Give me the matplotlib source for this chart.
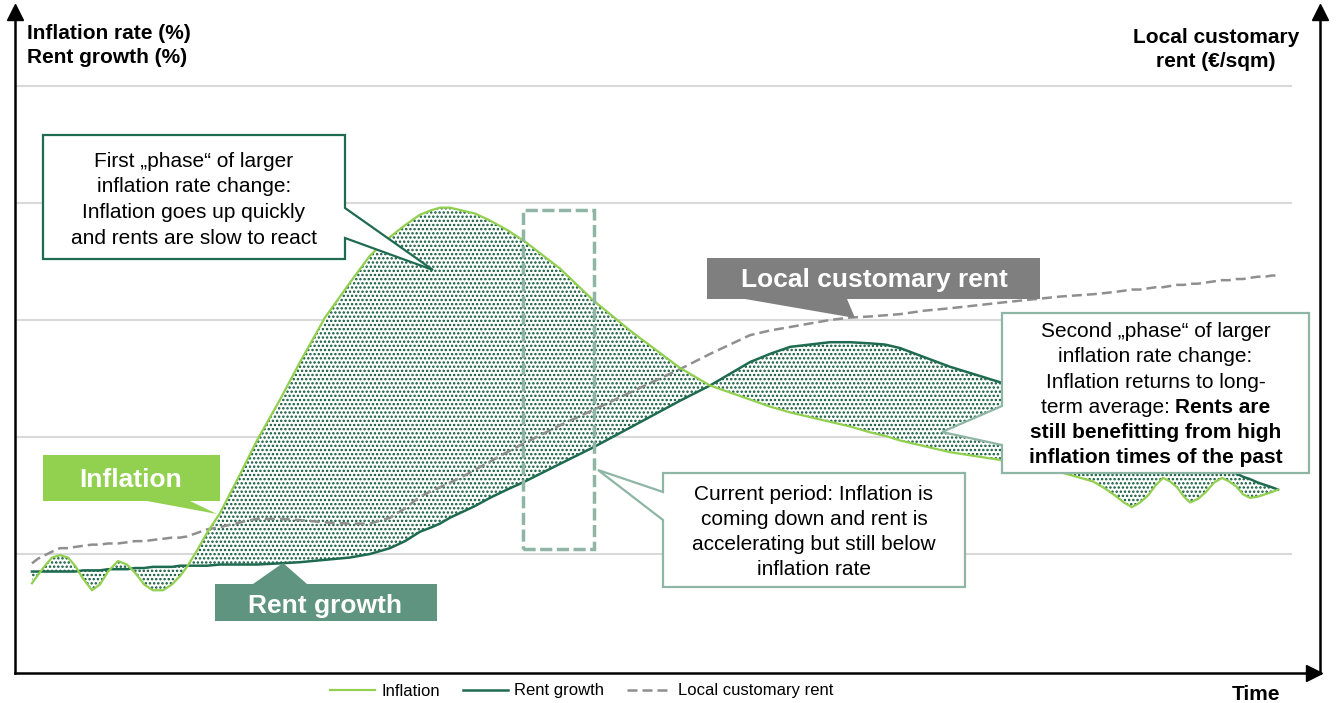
import matplotlib.pyplot as plt
import matplotlib.transforms as mtransforms
from matplotlib.patches import Polygon, Rectangle

plt.rcParams['font.family'] = ['Liberation Sans', 'DejaVu Sans']
plt.rcParams['hatch.color'] = '#0b5536'
plt.rcParams['hatch.linewidth'] = 1.15

# time axis in arbitrary units (0-100), rates in %
time = [1.30, 1.76, 2.30, 2.84, 3.45, 4.06, 4.60, 5.21, 5.90, 6.51, 7.13, 7.89,
        8.58, 9.20, 9.89, 10.57, 11.34, 12.03, 12.64, 13.18, 13.95, 14.71, 15.71,
        17.24, 18.54, 20.31, 21.84, 23.75, 25.67, 27.20, 28.74, 29.89, 31.03,
        31.95, 32.57, 33.33, 34.10, 35.25, 36.40, 37.70, 39.08, 41.76, 44.29,
        47.13, 50.96, 53.26, 56.32, 57.85, 59.39, 60.92, 62.45, 63.98, 65.52,
        66.67, 67.82, 69.73, 71.65, 75.71, 80.08, 82.61, 83.52, 84.29, 84.98,
        85.59, 86.21, 86.82, 87.43, 87.97, 88.51, 89.04, 89.58, 90.04, 90.65,
        91.26, 91.88, 92.49, 93.03, 93.56, 94.10, 94.64, 95.25, 95.79, 96.32,
        96.78]
inflation = [0.75, 0.82, 0.90, 0.97, 0.99, 0.97, 0.90, 0.79, 0.69, 0.74, 0.85, 0.94,
             0.91, 0.84, 0.74, 0.69, 0.69, 0.74, 0.81, 0.89, 1.03, 1.18, 1.35,
             1.68, 1.97, 2.32, 2.64, 3.02, 3.32, 3.55, 3.71, 3.81, 3.90,
             3.94, 3.96, 3.96, 3.94, 3.91, 3.85, 3.77, 3.67, 3.44, 3.17,
             2.91, 2.59, 2.44, 2.32, 2.26, 2.21, 2.17, 2.13, 2.09, 2.04,
             2.01, 1.97, 1.92, 1.87, 1.80, 1.70, 1.62, 1.56, 1.50, 1.44,
             1.40, 1.44, 1.50, 1.59, 1.65, 1.62, 1.57, 1.49, 1.44, 1.47,
             1.53, 1.61, 1.65, 1.62, 1.58, 1.51, 1.48, 1.49, 1.51, 1.53,
             1.55]
rent_growth = [0.85, 0.85, 0.85, 0.85, 0.85, 0.85, 0.85, 0.86, 0.86, 0.86, 0.87, 0.87,
               0.87, 0.88, 0.88, 0.89, 0.89, 0.89, 0.90, 0.90, 0.90, 0.90, 0.91,
               0.91, 0.91, 0.92, 0.93, 0.95, 0.97, 1.00, 1.05, 1.11, 1.19,
               1.23, 1.26, 1.31, 1.35, 1.41, 1.48, 1.55, 1.62, 1.77, 1.91,
               2.08, 2.31, 2.44, 2.64, 2.71, 2.77, 2.79, 2.81, 2.81, 2.80,
               2.79, 2.76, 2.68, 2.60, 2.46, 2.27, 2.16, 2.12, 2.09, 2.06,
               2.03, 2.01, 1.98, 1.95, 1.93, 1.91, 1.88, 1.86, 1.84, 1.81,
               1.79, 1.76, 1.73, 1.71, 1.69, 1.66, 1.64, 1.61, 1.59, 1.57,
               1.55]
local_rent = [0.92, 0.96, 0.99, 1.02, 1.05, 1.05, 1.06, 1.07, 1.08, 1.08, 1.09, 1.09,
              1.10, 1.11, 1.11, 1.12, 1.13, 1.14, 1.14, 1.15, 1.18, 1.21, 1.23,
              1.27, 1.30, 1.30, 1.29, 1.27, 1.26, 1.26, 1.31, 1.39, 1.49,
              1.54, 1.57, 1.61, 1.65, 1.72, 1.79, 1.87, 1.95, 2.10, 2.23,
              2.38, 2.58, 2.71, 2.87, 2.91, 2.94, 2.97, 3.00, 3.02, 3.03,
              3.04, 3.05, 3.08, 3.10, 3.15, 3.20, 3.22, 3.23, 3.24, 3.25,
              3.26, 3.26, 3.27, 3.28, 3.28, 3.29, 3.30, 3.30, 3.31, 3.31,
              3.32, 3.33, 3.34, 3.34, 3.35, 3.35, 3.36, 3.37, 3.37, 3.38,
              3.38]
series_names = ['Inflation', 'Rent growth', 'Local customary rent']

# current period window (time units)
current_start, current_end = 38.9, 44.4

C_INFL = '#92d050'
C_RENT = '#1f6b52'
C_LOCAL = '#8f8f8f'
C_PALE = '#8fb5a5'

W, H = 1342, 703
fig = plt.figure(figsize=(W / 100, H / 100), dpi=100)
ax = fig.add_axes([15 / W, 30 / H, 1305 / W, 661 / H])
ax.set_xlim(0, 100)
ax.set_ylim(-0.017, 5.632)
ax.set_xticks([])
ax.set_yticks([])
ax.spines['top'].set_visible(False)
for s in ['left', 'right', 'bottom']:
    ax.spines[s].set_linewidth(1.8)
    ax.spines[s].set_color('black')

ax.hlines([1, 2, 3, 4, 5], 0, 97.85, color='#d9d9d9', lw=1.5, zorder=0)

ax.fill_between(time, inflation, rent_growth, facecolor='white',
                edgecolor='#0b5536', hatch='....', linewidth=0, zorder=1)
l3, = ax.plot(time, local_rent, color=C_LOCAL, lw=1.8, ls=(0, (4, 2)), zorder=2)
l2, = ax.plot(time, rent_growth, color=C_RENT, lw=1.8, zorder=3)
l1, = ax.plot(time, inflation, color=C_INFL, lw=1.6, zorder=3)

ax.add_patch(Rectangle((current_start, 1.04), current_end - current_start, 2.9,
                       fill=False, edgecolor=C_PALE, lw=2.5, ls=(0, (3.5, 1.3)),
                       zorder=4))

# axis arrow heads
ax.plot([0, 1], [1, 1], ls='none', marker='^', ms=12, color='black',
        transform=ax.transAxes, clip_on=False)
ax.plot([0.9952], [0], ls='none', marker='>', ms=12, color='black',
        transform=ax.transAxes, clip_on=False)

# overlay elements in pixel coordinates (y from top)
px = mtransforms.Affine2D().scale(1 / W, -1 / H).translate(0, 1) + fig.transFigure


def shape(verts, fc, ec='none', lw=1.5):
    fig.add_artist(Polygon(verts, closed=True, transform=px, facecolor=fc,
                           edgecolor=ec, linewidth=lw, joinstyle='miter', zorder=5))


def rows(x, y0, step, texts, **kw):
    for i, s in enumerate(texts):
        fig.text(x, y0 + i * step, s, transform=px, ha='center', va='baseline',
                 zorder=6, **kw)


# callout: first phase
shape([(43, 135), (345, 135), (345, 208), (433, 270), (345, 238), (345, 259),
       (43, 259)], 'white', C_RENT, 1.6)
rows(194, 167, 25.5, ['First \u201ephase\u201c of larger', 'inflation rate change:',
                      'Inflation goes up quickly', 'and rents are slow to react'],
     fontsize=15)

# callout: current period
shape([(663, 473), (965, 473), (965, 587), (663, 587), (663, 520), (598, 470),
       (663, 492)], 'white', C_PALE, 1.6)
rows(814, 500, 25, ['Current period: Inflation is', 'coming down and rent is',
                    'accelerating but still below', 'inflation rate'], fontsize=15)

# callout: second phase
shape([(1002, 313), (1309, 313), (1309, 473), (1002, 473), (1002, 445), (942, 432),
       (1002, 406)], 'white', C_PALE, 1.6)
rows(1155.5, 337, 25.4, ['Second \u201ephase\u201c of larger', 'inflation rate change:',
                         'Inflation returns to long-'], fontsize=15)
rows(1155.5, 438, 25.4, ['still benefitting from high', 'inflation times of the past'],
     fontsize=15, fontweight='bold')
renderer = fig.canvas.get_renderer()
ta = fig.text(0, 413, 'term average:', transform=px, ha='left', va='baseline',
              fontsize=15, zorder=6)
tb = fig.text(0, 413, 'Rents are', transform=px, ha='left', va='baseline',
              fontsize=15, fontweight='bold', zorder=6)
probe1 = fig.text(0, 0, 'a a', fontsize=15)
probe2 = fig.text(0, 0, 'aa', fontsize=15)
gap = probe1.get_window_extent(renderer).width - probe2.get_window_extent(renderer).width
probe1.remove()
probe2.remove()
wa = ta.get_window_extent(renderer).width
wb = tb.get_window_extent(renderer).width
x0 = 1155.5 - (wa + gap + wb) / 2
ta.set_x(x0)
tb.set_x(x0 + wa + gap)

# series labels
shape([(43, 455), (220, 455), (220, 501), (190, 501), (217, 514), (147, 501),
       (43, 501)], C_INFL)
rows(131, 487, 0, ['Inflation'], fontsize=19, fontweight='bold', color='white')
shape([(215, 584), (253, 584), (283, 563), (307, 584), (437, 584), (437, 621),
       (215, 621)], '#5e9480')
rows(325, 613, 0, ['Rent growth'], fontsize=19, fontweight='bold', color='white')
shape([(707, 258), (1040, 258), (1040, 299), (847, 299), (855, 318), (745, 299),
       (707, 299)], '#7f7f7f')
rows(874, 287, 0, ['Local customary rent'], fontsize=19, fontweight='bold',
     color='white')

# axis titles
fig.text(27, 39, 'Inflation rate (%)', transform=px, ha='left', va='baseline',
         fontsize=15, fontweight='bold')
fig.text(27, 63, 'Rent growth (%)', transform=px, ha='left', va='baseline',
         fontsize=15, fontweight='bold')
rows(1216, 43, 24, ['Local customary', 'rent (\u20ac/sqm)'], fontsize=15,
     fontweight='bold')
rows(1256, 700, 0, ['Time'], fontsize=15, fontweight='bold')

fig.legend([l1, l2, l3], series_names, loc='center',
           bbox_to_anchor=(582 / W, 1 - 691 / H), ncol=3, frameon=False,
           fontsize=12, handlelength=2.7, handletextpad=0.35, columnspacing=1.4,
           borderpad=0, borderaxespad=0)

fig.savefig('out.png', dpi=100)
